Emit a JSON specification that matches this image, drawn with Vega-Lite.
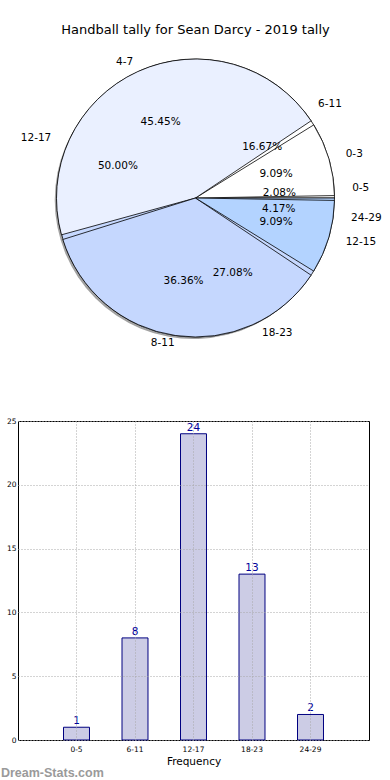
{
  "$schema": "https://vega.github.io/schema/vega-lite/v6.json",
  "padding": {"left": 0, "top": 24, "right": 0, "bottom": 0},
  "bounds": "flush",
  "spacing": 73,
  "config": {"font": "DejaVu Sans", "view": {"stroke": null}},
  "datasets": {
    "pie1": [
      {"bin": "0-5", "lo": 0, "count": 1, "pct": "2.08%"},
      {"bin": "6-11", "lo": 6, "count": 8, "pct": "16.67%"},
      {"bin": "12-17", "lo": 12, "count": 24, "pct": "50.00%"},
      {"bin": "18-23", "lo": 18, "count": 13, "pct": "27.08%"},
      {"bin": "24-29", "lo": 24, "count": 2, "pct": "4.17%"}
    ],
    "pie2": [
      {"bin": "0-3", "lo": 0, "count": 1, "pct": "9.09%"},
      {"bin": "4-7", "lo": 4, "count": 5, "pct": "45.45%"},
      {"bin": "8-11", "lo": 8, "count": 4, "pct": "36.36%"},
      {"bin": "12-15", "lo": 12, "count": 1, "pct": "9.09%"}
    ]
  },
  "title": {"text": "Dream-Stats.com", "orient": "bottom", "anchor": "start", "font": "Liberation Sans", "fontSize": 12.5, "fontWeight": "bold", "color": "#9a9a9a", "offset": -1, "dx": -5},
  "vconcat": [
    {
      "width": 355,
      "height": 300,
      "title": {"text": "Handball tally for Sean Darcy - 2019 tally", "fontSize": 13, "fontWeight": "normal", "color": "black", "offset": 11, "anchor": "middle"},
      "layer": [
        {
          "data": {"name": "pie1"},
          "mark": {"type": "arc", "radius": 139, "fill": "#555555", "opacity": 0.55, "xOffset": -2, "yOffset": 2},
          "encoding": {
            "theta": {"field": "count", "type": "quantitative", "stack": "normalize", "scale": {"range": [1.5707963, -4.712389]}},
            "order": {"field": "lo", "type": "quantitative"},
            "detail": {"field": "bin"}
          }
        },
        {
          "data": {"name": "pie1"},
          "mark": {"type": "arc", "radius": 139, "stroke": "black", "strokeWidth": 0.8},
          "encoding": {
            "theta": {"field": "count", "type": "quantitative", "stack": "normalize", "scale": {"range": [1.5707963, -4.712389]}},
            "order": {"field": "lo", "type": "quantitative"},
            "color": {"field": "bin", "type": "nominal", "legend": null,
              "scale": {"domain": ["0-5", "6-11", "12-17", "18-23", "24-29", "0-3", "4-7", "8-11", "12-15"],
                        "range": ["#ffffff", "#ffffff", "#c6d8ff", "#c6d8ff", "#b4d4ff", "#ffffff", "#eaf0ff", "#c5d7fe", "#b3d3ff"]}}
          }
        },
        {
          "data": {"name": "pie2"},
          "mark": {"type": "arc", "radius": 139, "stroke": "black", "strokeWidth": 0.8, "padAngle": 0.035},
          "encoding": {
            "theta": {"field": "count", "type": "quantitative", "stack": "normalize", "scale": {"range": [1.5707963, -4.712389]}},
            "order": {"field": "lo", "type": "quantitative"},
            "color": {"field": "bin", "type": "nominal", "legend": null}
          }
        },
        {
          "data": {"name": "pie1"},
          "mark": {"type": "text", "fontSize": 10.5, "color": "black", "baseline": "middle", "align": {"expr": "cos(PI*(datum.count_start + datum.count_end)) >= 0 ? 'left' : 'right'"}},
          "encoding": {
            "theta": {"field": "count", "type": "quantitative", "stack": "normalize", "scale": {"range": [1.5707963, -4.712389]}},
            "order": {"field": "lo", "type": "quantitative"},
            "detail": {"field": "bin"},
            "radius": {"value": {"expr": "145 + 12*abs(cos(PI*(datum.count_start + datum.count_end)))"}},
            "text": {"field": "bin"}
          }
        },
        {
          "data": {"name": "pie2"},
          "mark": {"type": "text", "fontSize": 10.5, "color": "black", "baseline": "middle", "align": {"expr": "cos(PI*(datum.count_start + datum.count_end)) >= 0 ? 'left' : 'right'"}},
          "encoding": {
            "theta": {"field": "count", "type": "quantitative", "stack": "normalize", "scale": {"range": [1.5707963, -4.712389]}},
            "order": {"field": "lo", "type": "quantitative"},
            "detail": {"field": "bin"},
            "radius": {"value": {"expr": "145 + 12*abs(cos(PI*(datum.count_start + datum.count_end)))"}},
            "text": {"field": "bin"}
          }
        },
        {
          "data": {"name": "pie1"},
          "mark": {"type": "text", "fontSize": 10.5, "color": "black"},
          "encoding": {
            "theta": {"field": "count", "type": "quantitative", "stack": "normalize", "scale": {"range": [1.5707963, -4.712389]}},
            "order": {"field": "lo", "type": "quantitative"},
            "detail": {"field": "bin"},
            "radius": {"value": 84},
            "text": {"field": "pct"}
          }
        },
        {
          "data": {"name": "pie2"},
          "mark": {"type": "text", "fontSize": 10.5, "color": "black"},
          "encoding": {
            "theta": {"field": "count", "type": "quantitative", "stack": "normalize", "scale": {"range": [1.5707963, -4.712389]}},
            "order": {"field": "lo", "type": "quantitative"},
            "detail": {"field": "bin"},
            "radius": {"value": 84},
            "text": {"field": "pct"}
          }
        }
      ]
    },
    {
      "data": {"name": "pie1"},
      "width": 351,
      "height": 319,
      "view": {"stroke": "black", "strokeWidth": 1},
      "encoding": {
        "x": {"field": "bin", "type": "nominal", "sort": null,
          "scale": {"paddingInner": 0.556, "paddingOuter": 0.778},
          "axis": {"title": "Frequency", "labelAngle": 0, "labelFontSize": 7.5, "labelColor": "black", "titleFontSize": 10.5, "titleFontWeight": "normal", "titleColor": "black", "ticks": false, "labelPadding": 5, "titlePadding": 4, "grid": true, "gridDash": [1, 2], "gridColor": "#a8a8a8", "bandPosition": 0.5, "domain": false, "zindex": 1}},
        "y": {"field": "count", "type": "quantitative", "scale": {"domain": [0, 25], "nice": false},
          "axis": {"title": null, "values": [0, 5, 10, 15, 20, 25], "labelFontSize": 7.5, "labelColor": "black", "ticks": false, "labelPadding": 2, "grid": true, "gridDash": [1, 2], "gridColor": "#a8a8a8", "domain": false, "zindex": 1}}
      },
      "layer": [
        {"mark": {"type": "bar", "fill": "#ccccE5", "stroke": "#000080", "strokeWidth": 1}},
        {"mark": {"type": "text", "dy": -3, "baseline": "alphabetic", "fontSize": 10.5, "color": "#00009a"}, "encoding": {"text": {"field": "count"}}}
      ]
    }
  ]
}
